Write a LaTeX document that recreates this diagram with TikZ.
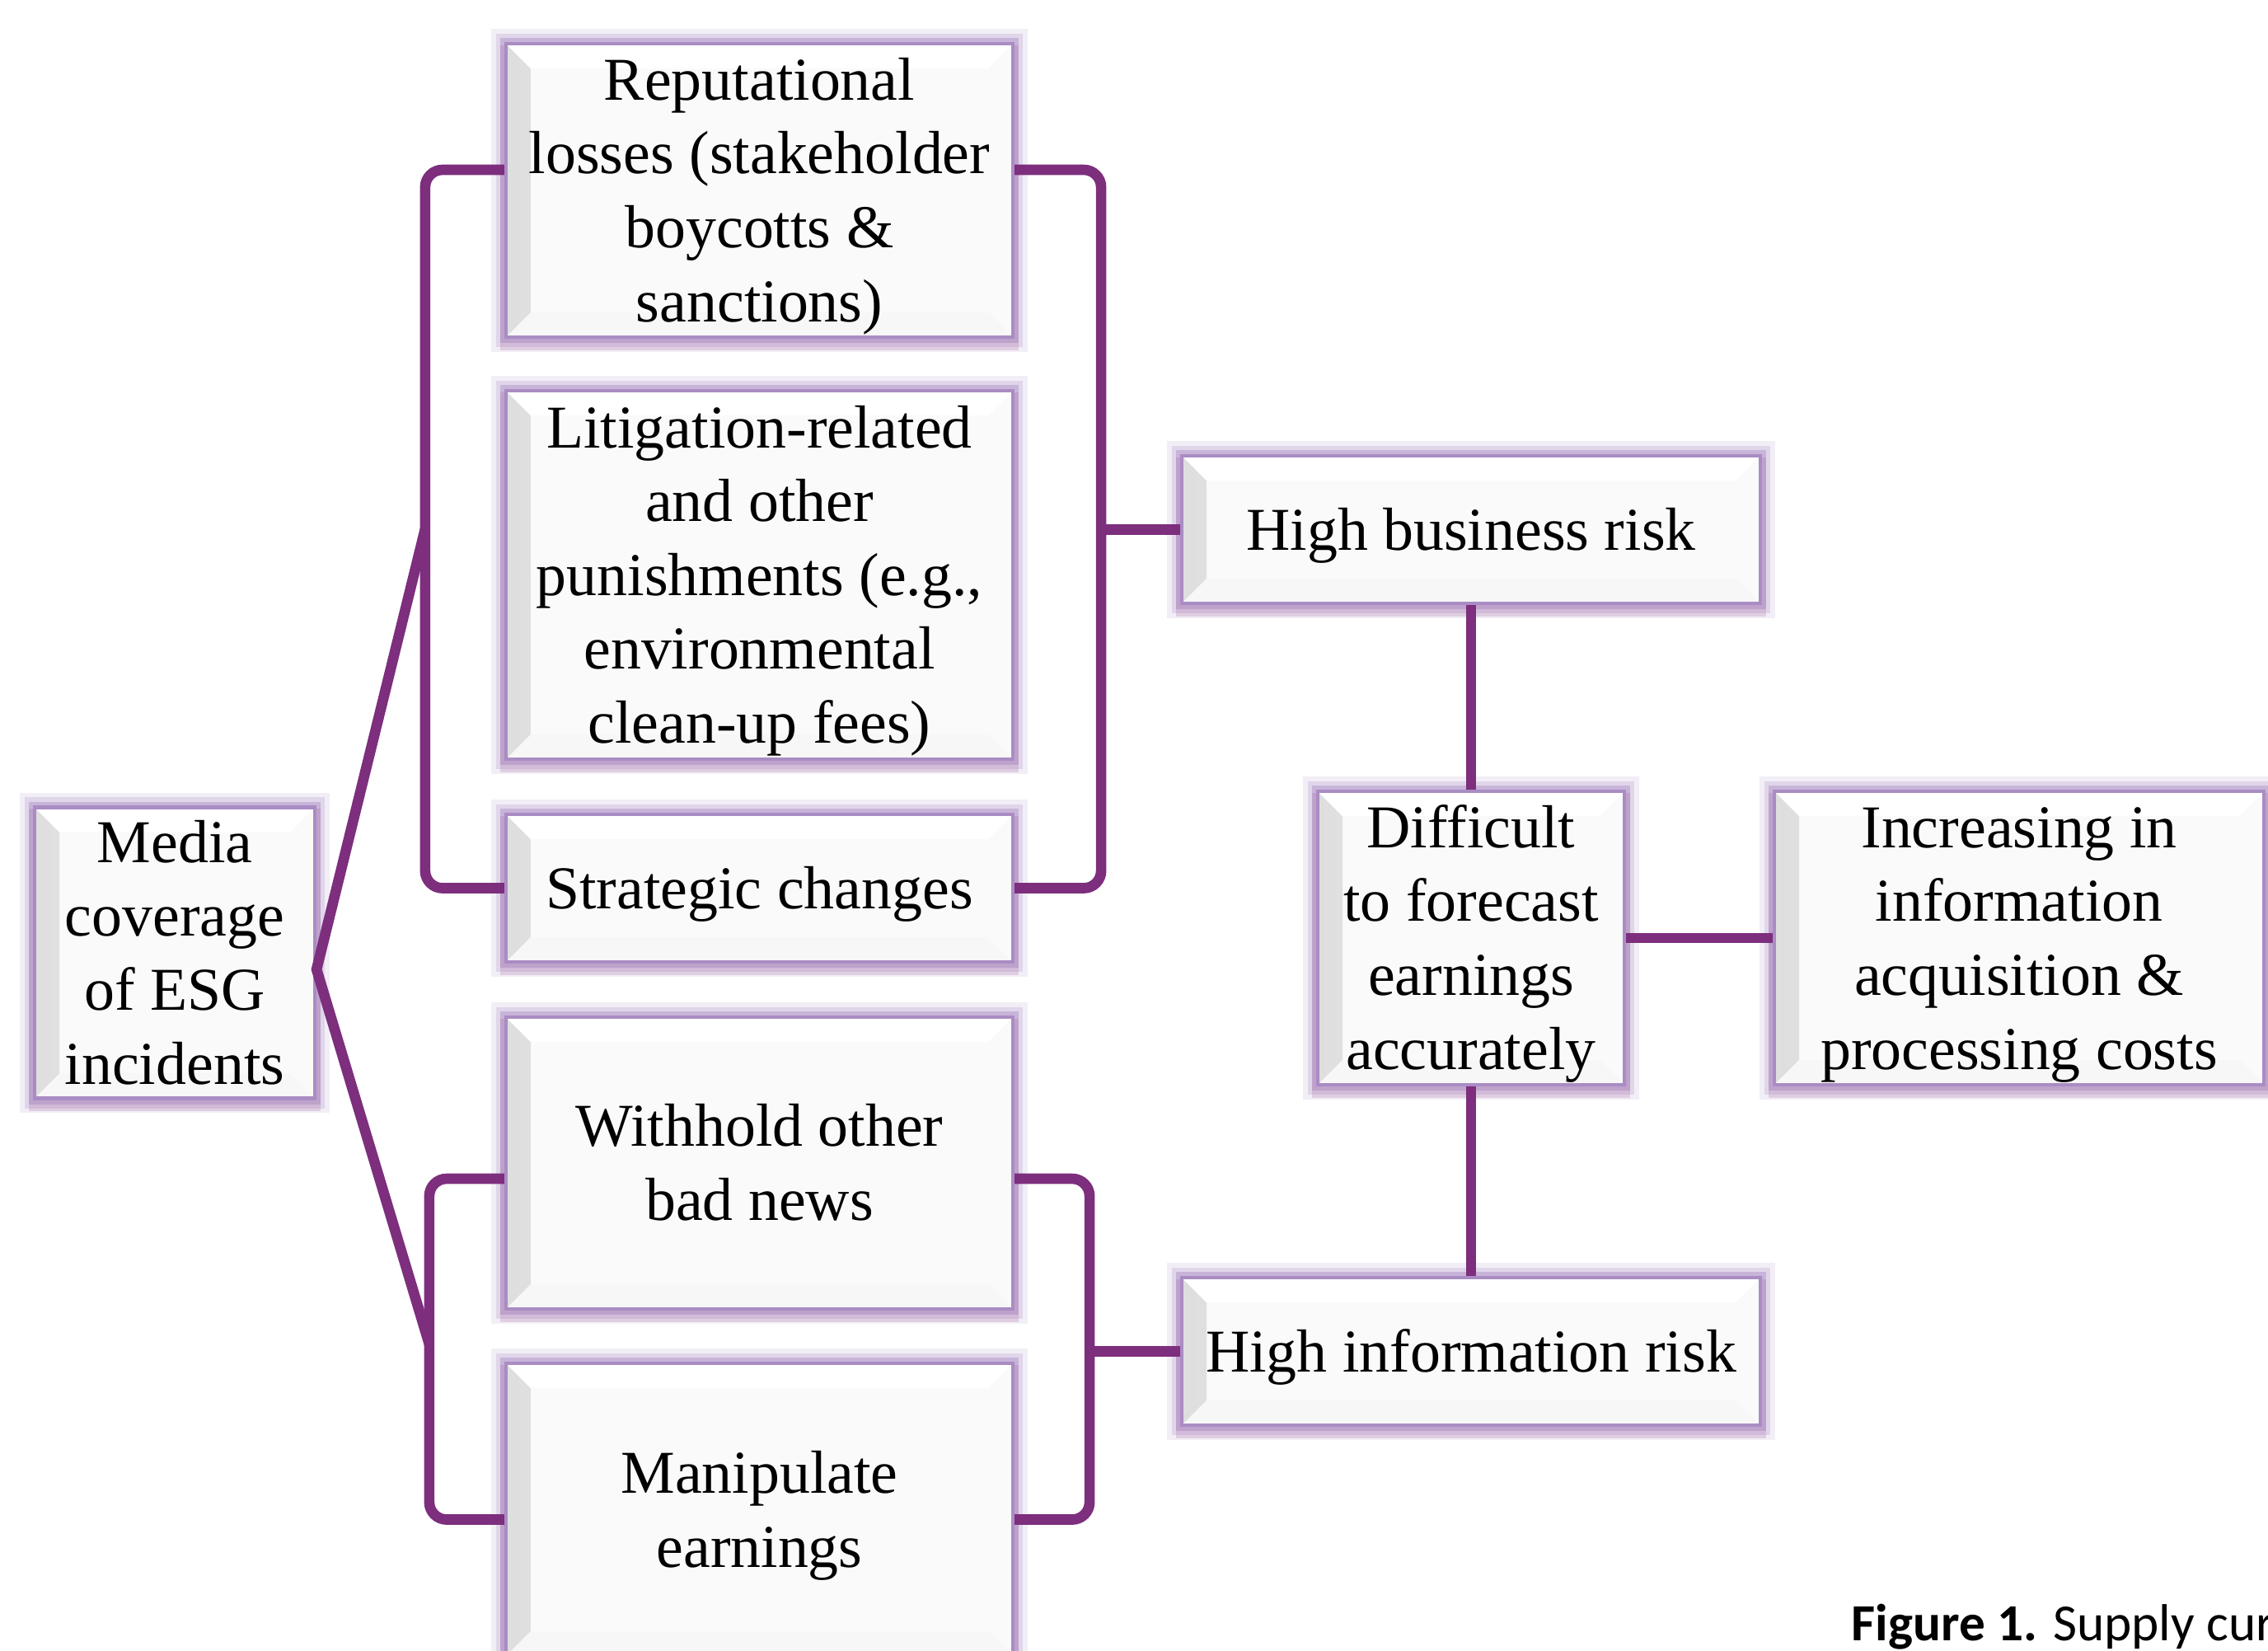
\documentclass[tikz,border=0pt]{standalone}
\usepackage{fontspec}
\setmainfont{Liberation Serif}
\newfontfamily\capfont{Carlito}
\usetikzlibrary{calc}

\definecolor{linkpurple}{RGB}{125,46,125}
\definecolor{glowpurple}{RGB}{170,140,196}
\definecolor{boxface}{RGB}{250,250,250}

% line height as in a word processor
\newcommand{\topstrut}{\vrule width 0pt height 0.89em depth 0pt\relax}

\begin{document}
\begin{tikzpicture}[
	box/.style={draw=glowpurple, line width=1.2pt, fill=boxface, align=center,
		inner sep=0pt, font=\fontsize{21}{25.5}\selectfont,
		execute at end node={\vrule width 0pt height 0pt depth 0.22em},
		preaction={draw=glowpurple, line width=10pt, opacity=0.15},
		preaction={draw=glowpurple, line width=7pt, opacity=0.25},
		preaction={draw=glowpurple, line width=4pt, opacity=0.45},
		preaction={draw=linkpurple!70, line width=4pt, opacity=0.25, transform canvas={yshift=-2.5pt}},
		path picture={
			% left bevel
			\fill[left color=black!13, right color=boxface]
				(path picture bounding box.south west) -- (path picture bounding box.north west)
				-- ([shift={(0.3,-0.3)}]path picture bounding box.north west)
				-- ([shift={(0.3,0.3)}]path picture bounding box.south west) -- cycle;
			% top bevel
			\fill[white]
				(path picture bounding box.north west) -- (path picture bounding box.north east)
				-- ([shift={(-0.3,-0.3)}]path picture bounding box.north east)
				-- ([shift={(0.3,-0.3)}]path picture bounding box.north west) -- cycle;
			% bottom bevel
			\fill[black!3]
				(path picture bounding box.south west) -- (path picture bounding box.south east)
				-- ([shift={(-0.3,0.3)}]path picture bounding box.south east)
				-- ([shift={(0.3,0.3)}]path picture bounding box.south west) -- cycle;
		}},
	link/.style={draw=linkpurple, line width=3.6pt, rounded corners=6pt}
]
\useasboundingbox (0,0) rectangle (27.52,-20.02);

	% Starting box on the left
	\node[box, minimum width=3.4cm, minimum height=3.53cm] (media) at (2.12,-11.56) {\topstrut Media\\coverage\\of ESG\\incidents};

	% Upper group of three consequences
	\node[box, minimum width=6.15cm, minimum height=3.56cm] (repu) at (9.215,-2.31) {\topstrut Reputational\\losses (stakeholder\\boycotts \&\\sanctions)};
	\node[box, minimum width=6.15cm, minimum height=4.47cm] (litig) at (9.215,-6.975) {\topstrut Litigation-related\\and other\\punishments (e.g.,\\environmental\\clean-up fees)};
	\node[box, minimum width=6.15cm, minimum height=1.79cm] (strat) at (9.215,-10.775) {\topstrut Strategic changes};

	% Lower group of two consequences
	\node[box, minimum width=6.15cm, minimum height=3.54cm] (withh) at (9.215,-14.11) {\topstrut Withhold other\\bad news};
	\node[box, minimum width=6.15cm, minimum height=3.55cm] (manip) at (9.215,-18.315) {\topstrut Manipulate\\earnings};

	% Risk boxes and their result
	\node[box, minimum width=7.02cm, minimum height=1.79cm] (busrisk) at (17.85,-6.425) {\topstrut High business risk};
	\node[box, minimum width=3.72cm, minimum height=3.56cm] (forecast) at (17.85,-11.38) {\topstrut Difficult\\to forecast\\earnings\\accurately};
	\node[box, minimum width=5.94cm, minimum height=3.56cm] (costs) at (24.5,-11.38) {\topstrut Increasing in\\information\\acquisition \&\\processing costs};
	\node[box, minimum width=7.02cm, minimum height=1.79cm] (inforisk) at (17.85,-16.395) {\topstrut High information risk};

	% Upper bracket, left and right side
	\draw[link] ([yshift=0.25cm]repu.west) -- ++(-0.96,0) coordinate (upl) |- (strat.west);
	\draw[link] ([yshift=0.25cm]repu.east) -- ++(1.05,0) coordinate (upr) |- (strat.east);
	\draw[link] (busrisk.west) -- (busrisk.west -| upr);

	% Lower bracket, left and right side
	\draw[link] ([yshift=-0.19cm]withh.west) -- ++(-0.91,0) coordinate (lowl) |- ([yshift=-0.12cm]manip.west);
	\draw[link] ([yshift=-0.19cm]withh.east) -- ++(0.91,0) coordinate (lowr) |- ([yshift=-0.12cm]manip.east);
	\draw[link] (inforisk.west) -- (inforisk.west -| lowr);

	% Media box to both brackets
	\draw[link, rounded corners=0pt] ($(upl)!0.5!(upl |- strat.west)$) -- ([yshift=-0.2cm]media.east) -- ($(lowl)!0.5!(lowl |- manip.west)$);

	% Risks to forecast box and costs
	\draw[link] (busrisk.south) -- (forecast.north);
	\draw[link] (forecast.south) -- (inforisk.north);
	\draw[link] (forecast.east) -- (costs.west);

	% Caption, cut at the right edge
	\node[anchor=base west, inner sep=0pt, font=\capfont\fontsize{18}{21}\selectfont] (caption) at (22.46,-19.9) {\textbf{Figure 1.} Supply cur};

\end{tikzpicture}
\end{document}
